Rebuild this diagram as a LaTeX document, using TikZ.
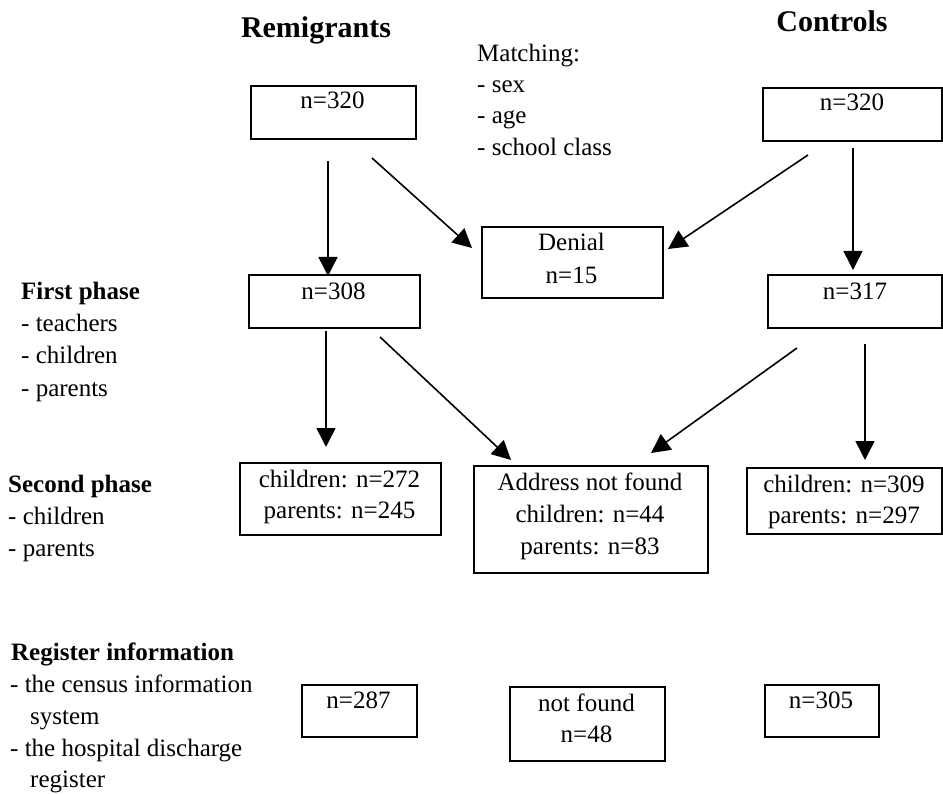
\documentclass[tikz,border=0pt]{standalone}
\usepackage{fontspec}
\setmainfont{Liberation Serif}
\usetikzlibrary{arrows.meta}
\tikzset{
  box/.style={draw, line width=1.7pt, inner sep=0pt, anchor=north west},
  txt/.style={anchor=base, inner sep=0pt, font=\fontsize{25}{30}\selectfont},
  ltxt/.style={anchor=base west, inner sep=0pt, font=\fontsize{25}{30}\selectfont},
  hd/.style={anchor=base west, inner sep=0pt, font=\fontsize{25}{30}\selectfont\bfseries},
  title/.style={anchor=base, inner sep=0pt, font=\fontsize{30}{36}\selectfont\bfseries},
  arr/.style={-{Triangle[length=19pt,width=19pt]}, line width=1.6pt}
}
\begin{document}
\begin{tikzpicture}[x=1pt,y=-1pt]
\useasboundingbox (0,0) rectangle (943,794);
% titles
\node[title] (tR) at (316,38) {Remigrants};
\node[title] (tC) at (832,32) {Controls};
% matching
\node[ltxt] (m0) at (477,62) {Matching:};
\node[ltxt] (m1) at (477,93) {- sex};
\node[ltxt] (m2) at (477,124) {- age};
\node[ltxt] (m3) at (477,156) {- school class};
% left labels
\node[hd] (f0) at (21,300) {First phase};
\node[ltxt] (f1) at (21,332) {- teachers};
\node[ltxt] (f2) at (21,364) {- children};
\node[ltxt] (f3) at (21,396) {- parents};
\node[hd] (s0) at (8,492) {Second phase};
\node[ltxt] (s1) at (8,524) {- children};
\node[ltxt] (s2) at (8,556) {- parents};
\node[hd] (g0) at (11,660) {Register information};
\node[ltxt] (g1) at (10,692) {- the census information};
\node[ltxt] (g2) at (30,724) {system};
\node[ltxt] (g3) at (10,756) {- the hospital discharge};
\node[ltxt] (g4) at (30,787) {register};
% boxes row 1
\node[box, minimum width=165, minimum height=53] (rA) at (250,85) {};
\node[txt] (rAt) at (332.5,109) {n=320};
\node[box, minimum width=179, minimum height=53] (cA) at (762,87) {};
\node[txt] (cAt) at (852,111) {n=320};
\node[box, minimum width=181, minimum height=71] (den) at (481,226) {};
\node[txt] (dent1) at (571.5,251) {Denial};
\node[txt] (dent2) at (571.5,284) {n=15};
% row 2
\node[box, minimum width=171, minimum height=53] (rB) at (248,274) {};
\node[txt] (rBt) at (333.5,300) {n=308};
\node[box, minimum width=174, minimum height=53] (cB) at (767,274) {};
\node[txt] (cBt) at (855,300) {n=317};
% row 3
\node[box, minimum width=201, minimum height=72] (rC) at (239,462) {};
\node[txt] (rCt1) at (339.5,487) {children: n=272};
\node[txt] (rCt2) at (339.5,518) {parents: n=245};
\node[box, minimum width=234, minimum height=107] (adr) at (473,465) {};
\node[txt] (adrt1) at (590,490) {Address not found};
\node[txt] (adrt2) at (590,522) {children: n=44};
\node[txt] (adrt3) at (590,554) {parents: n=83};
\node[box, minimum width=195, minimum height=66] (cC) at (746,467) {};
\node[txt] (cCt1) at (844,492) {children: n=309};
\node[txt] (cCt2) at (844,523) {parents: n=297};
% row 4
\node[box, minimum width=115, minimum height=52] (rD) at (301,684) {};
\node[txt] (rDt) at (358.5,708) {n=287};
\node[box, minimum width=155, minimum height=74] (nf) at (509,686) {};
\node[txt] (nft1) at (586.5,711) {not found};
\node[txt] (nft2) at (586.5,742) {n=48};
\node[box, minimum width=114, minimum height=52] (cD) at (764,684) {};
\node[txt] (cDt) at (821,708) {n=305};
% arrow end points
\coordinate (a1s) at (328,161); \coordinate (a1e) at (328,276);
\coordinate (a2s) at (372,158); \coordinate (a2e) at (472,248);
\coordinate (a3s) at (808,155); \coordinate (a3e) at (668,249);
\coordinate (a4s) at (853,148); \coordinate (a4e) at (853,270);
\coordinate (a5s) at (326,331); \coordinate (a5e) at (326,447);
\coordinate (a6s) at (380,337); \coordinate (a6e) at (511,460);
\coordinate (a7s) at (797,348); \coordinate (a7e) at (651,453);
\coordinate (a8s) at (865,344); \coordinate (a8e) at (865,460);
\draw[arr] (a1s) -- (a1e);
\draw[arr] (a2s) -- (a2e);
\draw[arr] (a3s) -- (a3e);
\draw[arr] (a4s) -- (a4e);
\draw[arr] (a5s) -- (a5e);
\draw[arr] (a6s) -- (a6e);
\draw[arr] (a7s) -- (a7e);
\draw[arr] (a8s) -- (a8e);
\end{tikzpicture}
\end{document}
